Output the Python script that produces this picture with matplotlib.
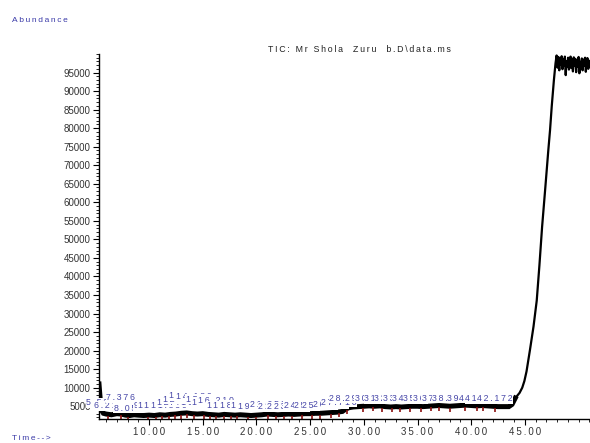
import numpy as np
import matplotlib
matplotlib.use("Agg")
from matplotlib import pyplot as plt

plt.rcParams['font.family'] = ['Liberation Sans', 'DejaVu Sans']

# total ion chromatogram, retention time (min) vs abundance
rt = [5.34, 5.42, 5.5, 5.6, 5.75, 6.0, 6.5, 7.0, 7.4, 7.8, 8.2, 8.6, 9.0, 9.5,
      10.0, 10.5, 11.0, 11.5, 12.0, 12.5, 13.0, 13.5, 14.0, 14.5, 15.0, 15.5,
      16.0, 16.5, 17.0, 17.5, 18.0, 18.5, 19.0, 19.5, 20.0, 20.5, 21.0, 21.5,
      22.0, 22.5, 23.0, 23.5, 24.0, 24.5, 25.0, 25.5, 26.0, 26.5, 27.0, 27.5,
      28.0, 28.3, 28.6, 29.0, 29.5, 30.0, 30.5, 31.0, 31.5, 32.0, 32.5, 33.0,
      33.5, 34.0, 34.5, 35.0, 35.5, 36.0, 36.5, 37.0, 37.5, 38.0, 38.5, 39.0,
      39.5, 40.0, 40.5, 41.0, 41.5, 42.0, 42.5, 43.0, 43.5, 43.8, 44.1, 44.5,
      44.75, 44.95, 45.15, 45.47, 45.8, 46.1, 46.35, 46.6, 46.9, 47.18, 47.34, 47.5, 47.7,
      47.85, 47.95, 48.05, 48.12, 48.2, 48.27, 48.35, 48.42, 48.5, 48.57, 48.65,
      48.72, 48.8, 48.87, 48.95, 49.02, 49.1, 49.17, 49.25, 49.32, 49.4, 49.47,
      49.55, 49.62, 49.7, 49.77, 49.85, 49.92, 50.0, 50.07, 50.15, 50.22, 50.3,
      50.37, 50.45, 50.52, 50.6, 50.67, 50.75, 50.82, 50.9, 50.97, 51.05]
abundance = [11000, 8000, 5500, 3800, 3100, 2900, 2700, 3000, 2900, 2600, 2500, 2700, 2600, 2500,
             2600, 2500, 2700, 2600, 2800, 2900, 3100, 3200, 3000, 2900, 3000, 2800,
             2700, 2600, 2800, 2700, 2600, 2700, 2600, 2500, 2600, 2700, 2900, 2800,
             2700, 2800, 2900, 2800, 2900, 3000, 3000, 3100, 3100, 3200, 3300, 3400,
             3600, 4200, 4600, 4800, 4900, 5000, 5100, 5000, 5100, 4900, 4800, 4900,
             4800, 4900, 5000, 5000, 4900, 5000, 5100, 5200, 5100, 5000, 5100, 5200,
             5300, 5200, 5100, 5200, 5100, 5000, 4900, 4900, 4900, 5500, 7200, 8600,
             10000, 11800, 14400, 20200, 26500, 33500, 43000, 53400, 64000, 74100, 79500, 86000, 93000,
             97500, 99600, 96300, 99200, 95600, 98900, 97100, 99400, 95900, 98600, 96800,
             99300, 94300, 98100, 96500, 99000, 95800, 97700, 99300, 96200, 98600, 95300,
             99100, 96900, 98700, 95100, 98400, 96600, 99200, 94800, 97900, 96300, 98800,
             95600, 98500, 96900, 99000, 95200, 97800, 98900, 96000, 98200, 96700]

# integrated peaks: retention time, label height
peak_rt = [5.52, 6.21, 7.376, 8.05, 9.92, 10.61, 11.22, 11.83, 12.41, 12.93,
           13.52, 14.18, 15.08, 15.63, 16.21, 17.02, 17.61, 18.23, 19.254, 19.92,
           21.05, 21.82, 22.61, 23.32, 24.21, 25.18, 25.93, 26.92, 27.71, 28.43,
           29.92, 30.81, 31.72, 32.63, 33.41, 34.32, 35.31, 36.22, 37.04, 38.02,
           39.43, 40.52, 41.08, 42.172]
label_h = [5900, 5100, 7230, 4500, 5100, 5100, 5100, 5300, 6100, 6900,
           7800, 7500, 6900, 6100, 6500, 5100, 5100, 5300, 5300, 4800,
           5600, 4800, 4800, 4800, 5100, 5300, 5300, 5600, 6100, 7200,
           7200, 7200, 7000, 7000, 7000, 7000, 7200, 7200, 7200, 7200,
           7200, 7200, 7000, 7000]


def spaced(s):
    # ChemStation-style letter spacing
    return "\u2009".join(s)


rt = np.array(rt)
abundance = np.array(abundance)

fig = plt.figure(figsize=(5.9, 4.43), dpi=100)
ax = fig.add_axes([99/590, 24/443, 491/590, 365/443])

base = rt <= 44.1
ax.plot(rt[base], abundance[base], color="black", lw=3.6, solid_joinstyle="miter")
ax.plot(rt[rt >= 43.8], abundance[rt >= 43.8], color="black", lw=1.6)

# baseline markers of the integration
mark_y = np.interp(peak_rt, rt, abundance) - 900
ax.plot(peak_rt, mark_y, ls="none", marker="|", ms=3, mew=1.2, color="#8b1010")

for t, h in zip(peak_rt, label_h):
    ax.text(t, h, spaced("%.3f" % t), fontsize=6.3, color="#4646a8", ha="center", va="center",
            bbox=dict(facecolor="white", edgecolor="none", pad=0.3))

ax.set_xlim(5.34, 51.06)
ax.set_ylim(1560, 100000)

ax.set_xticks(np.arange(10, 50, 5))
ax.set_xticklabels([spaced("%.2f" % v) for v in np.arange(10, 50, 5)])
ax.set_xticks(np.arange(6, 52, 1), minor=True)
ax.set_yticks(np.arange(5000, 100000, 5000))
ax.set_yticks(np.arange(2000, 100001, 1000), minor=True)

ax.tick_params(axis="both", which="major", direction="out", length=4, width=0.8,
               labelsize=7, labelcolor="#333333", pad=2)
ax.tick_params(axis="both", which="minor", direction="out", length=2, width=0.6)

for side in ["top", "right"]:
    ax.spines[side].set_visible(False)
for side in ["left", "bottom"]:
    ax.spines[side].set_linewidth(1.0)

ax.set_title(spaced("TIC: Mr Shola  Zuru  b.D\\data.ms"), fontsize=6.3, color="#222222",
             pad=1.5, x=0.53)
fig.text(12/590, 1 - 20/443, spaced("Abundance"), fontsize=6, color="#3a3aa8", va="center")
fig.text(12/590, 1 - 439/443, spaced("Time-->"), fontsize=6, color="#3a3aa8", va="center")

plt.savefig("out.png", dpi=100)
